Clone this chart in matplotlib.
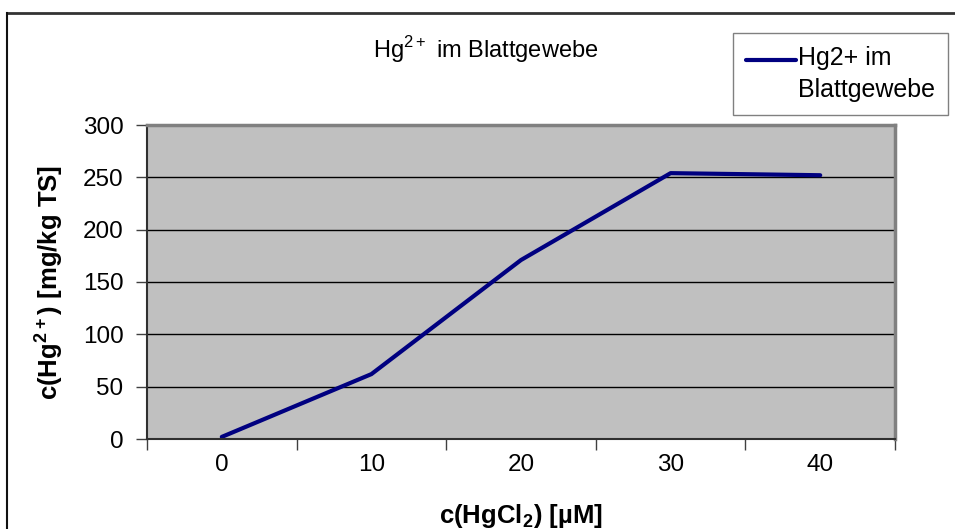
import matplotlib

matplotlib.use("Agg")
import matplotlib.pyplot as plt  # noqa: E402
from matplotlib.legend_handler import HandlerLine2D  # noqa: E402
from matplotlib.lines import Line2D  # noqa: E402
import numpy as np  # noqa: E402

plt.rcParams["font.family"] = ["Liberation Sans", "DejaVu Sans"]
plt.rcParams["mathtext.fontset"] = "custom"
plt.rcParams["mathtext.rm"] = "Liberation Sans"
plt.rcParams["mathtext.bf"] = "Liberation Sans:bold"

# Daten
konzentration = ["0", "10", "20", "30", "40"]
hg_blatt = [2, 62, 171, 254, 252]
y_ticks = [0, 50, 100, 150, 200, 250, 300]


class HandlerErsteZeile(HandlerLine2D):
    """Legendenlinie auf Höhe der ersten Textzeile."""

    def create_artists(self, legend, orig_handle, xdescent, ydescent,
                       width, height, fontsize, trans):
        artists = super().create_artists(legend, orig_handle, xdescent, ydescent,
                                         width, height, fontsize, trans)
        for a in artists:
            a.set_ydata(np.asarray(a.get_ydata()) + 0.6 * fontsize)
        return artists


fig = plt.figure(figsize=(9.55, 5.29), dpi=100)
ax = fig.add_axes([147 / 955, 1 - 439 / 529, (895 - 147) / 955, (439 - 125) / 529])
ax.set_facecolor("#c0c0c0")

pos = np.arange(len(konzentration))
linie, = ax.plot(pos, hg_blatt, color="#000080", lw=3.0, solid_capstyle="round",
                 label="Hg2+ im\nBlattgewebe")

ax.set_xlim(-0.5, len(konzentration) - 0.5)
ax.set_ylim(0, 300)
ax.set_yticks(y_ticks)
ax.set_yticklabels([str(v) for v in y_ticks], fontsize=17.5)
ax.yaxis.grid(True, color="black", lw=1.0)
ax.set_axisbelow(True)

# Kategorienachse: Striche an den Grenzen, Beschriftung in der Mitte
ax.set_xticks(np.arange(-0.5, len(konzentration)), labels=[])
ax.set_xticks(pos, labels=konzentration, minor=True)
ax.tick_params(axis="x", which="minor", length=0, labelsize=17.5, pad=11)
ax.tick_params(axis="both", which="major", length=8, width=1.0, color="#404040")
ax.tick_params(axis="y", pad=9)

for side in ("left", "bottom"):
    ax.spines[side].set_color("#303030")
    ax.spines[side].set_linewidth(1.5)
for side in ("top", "right"):
    ax.spines[side].set_color("#808080")
    ax.spines[side].set_linewidth(2.5)

ax.set_xlabel(r"c(HgCl$_{\mathbf{2}}$) [µM]", fontsize=18.5, fontweight="bold")
ax.xaxis.set_label_coords(0.5, -0.2)
ax.set_ylabel(r"c(Hg$^{\mathbf{2+}}$) [mg/kg TS]", fontsize=18.5, fontweight="bold")
ax.yaxis.set_label_coords(-0.11, 0.5)

fig.text(486 / 955, 1 - 50 / 529, r"Hg$^{\mathrm{2+}}$ im Blattgewebe",
         fontsize=17, ha="center", va="center")

leg = fig.legend(handles=[linie], loc="upper left",
                 bbox_to_anchor=(733 / 955, 1 - 33 / 529),
                 handler_map={linie: HandlerErsteZeile()},
                 fontsize=18, frameon=True, fancybox=False, handlelength=2.0,
                 handletextpad=0.1, borderpad=0.5, borderaxespad=0)
leg.get_texts()[0].set_linespacing(1.45)
leg.get_frame().set_edgecolor("#606060")
leg.get_frame().set_linewidth(1.0)

# Rahmen des Diagrammbereichs
x0, y0 = 7 / 955, 1 - 13 / 529
fig.add_artist(Line2D([x0, 1], [y0, y0], transform=fig.transFigure, color="#333333", lw=2))
fig.add_artist(Line2D([x0, x0], [0, y0], transform=fig.transFigure, color="#111111", lw=1.5))

fig.savefig("out.png", dpi=100)
plt.close(fig)
